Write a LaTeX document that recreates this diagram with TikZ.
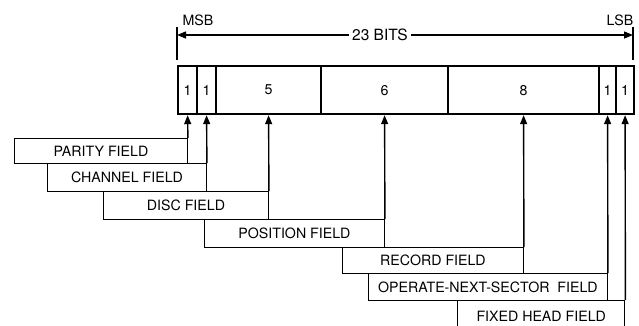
\documentclass[tikz,border=0pt]{standalone}
\usepackage{fontspec}
\setmainfont{TeX Gyre Heros}
\usetikzlibrary{arrows.meta}
\begin{document}
\begin{tikzpicture}[x=1pt,y=-1pt,
  txt/.style={font=\fontsize{14.2}{16}\selectfont},
  cell/.style={draw,line width=2.2pt,minimum height=48pt,inner sep=0pt,anchor=north west,txt},
  lbl/.style={draw,line width=1.4pt,inner sep=0pt,anchor=north west,txt},
  arr/.style={line width=1.4pt,-{Triangle[length=9pt,width=7pt]}},
  thin/.style={line width=1.4pt}]
\clip (0,0) rectangle (639,325);
% register cells
\node[cell,minimum width=19pt] (c1) at (177,65) {1};
\node[cell,minimum width=19pt] (c2) at (196,65) {1};
\node[cell,minimum width=105pt] (c3) at (215,65) {5};
\node[cell,minimum width=127pt] (c4) at (320,65) {6};
\node[cell,minimum width=151pt] (c5) at (447,65) {8};
\node[cell,minimum width=17pt] (c6) at (598,65) {1};
\node[cell,minimum width=18pt] (c7) at (615,65) {1};
% dimension
\coordinate (tl) at (177,27);
\coordinate (bl) at (177,60);
\coordinate (tr) at (633,27);
\coordinate (br) at (633,60);
\draw[thin] (tl) -- (bl);
\draw[thin] (tr) -- (br);
\coordinate (dl) at (177,35);
\coordinate (dr) at (633,35);
\node[txt,fill=white,inner sep=3pt,font=\fontsize{15.5}{17}\selectfont] (bits) at (380,35) {23 BITS};
\draw[arr] (bits.west) -- (dl);
\draw[arr] (bits.east) -- (dr);
\node[txt] (msb) at (198,20) {MSB};
\node[txt] (lsb) at (620,20) {LSB};
% label boxes
\node[lbl,minimum width=172.5pt,minimum height=25pt] (parity) at (14,138) {PARITY FIELD};
\node[lbl,minimum width=158.5pt,minimum height=28pt] (channel) at (47,163) {CHANNEL FIELD};
\node[lbl,minimum width=164.5pt,minimum height=28pt] (disc) at (103,191) {DISC FIELD};
\node[lbl,minimum width=179.5pt,minimum height=28pt] (position) at (204,219) {POSITION FIELD};
\node[lbl,minimum width=180.5pt,minimum height=26pt] (record) at (342,247) {RECORD FIELD};
\node[lbl,minimum width=238.5pt,minimum height=27pt] (ons) at (368,273) {OPERATE-NEXT-SECTOR\ \ FIELD};
\node[lbl,minimum width=167pt,minimum height=32pt] (fixed) at (457,300) {FIXED HEAD FIELD};
% arrows
\draw[arr] (parity.north east) -- (c1.south);
\draw[arr] (channel.north east) -- (c2.south);
\draw[arr] (disc.north east) -- (c3.south);
\draw[arr] (position.north east) -- (c4.south);
\draw[arr] (record.north east) -- (c5.south);
\draw[arr] (ons.north east) -- (c6.south);
\draw[arr] (fixed.north east) -- (c7.south);
\end{tikzpicture}
\end{document}
